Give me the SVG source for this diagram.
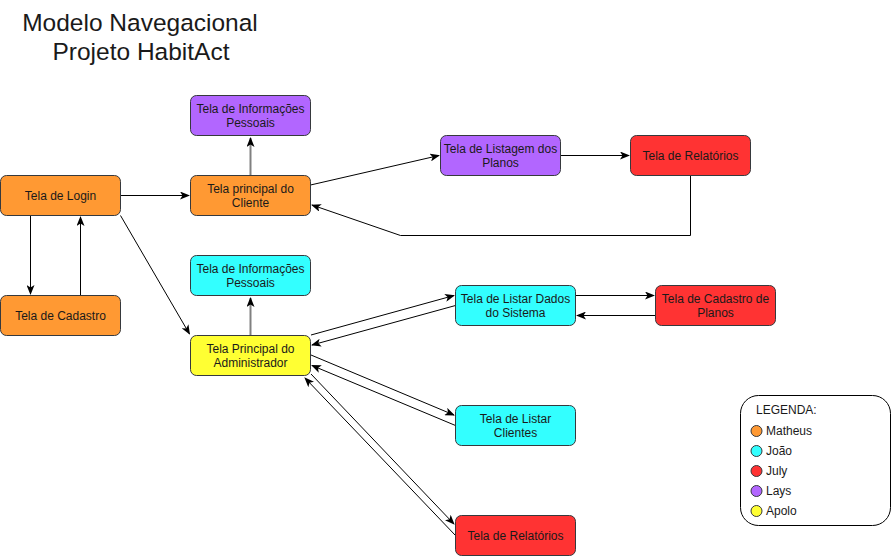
<svg xmlns="http://www.w3.org/2000/svg" width="891" height="556" viewBox="0 0 891 556">
<defs>
<style>
.n{stroke:#36393d;stroke-width:1}
.t{font-family:"Liberation Sans",Arial,sans-serif;font-size:12px;fill:#1a1a1a;text-anchor:middle}
.e{fill:none;stroke:#000;stroke-width:1}
.g{fill:none;stroke:#808080;stroke-width:2}
.or{fill:#FF9933}.cy{fill:#33FFFF}.rd{fill:#FF3333}.pu{fill:#B266FF}.ye{fill:#FFFF33}
</style>
<marker id="a" viewBox="0 0 10 8" refX="9" refY="4" markerWidth="10" markerHeight="8" markerUnits="userSpaceOnUse" orient="auto">
<path d="M0,0 L10,4 L0,8 L2.5,4 Z" fill="#000"/>
</marker>
</defs>
<rect width="891" height="556" fill="#fff"/>
<g id="title" font-family="'Liberation Sans',Arial,sans-serif" font-size="24.5" fill="#1a1a1a" text-anchor="middle">
<text x="140" y="31">Modelo Navegacional</text>
<text x="141" y="60">Projeto HabitAct</text>
</g>
<g id="connectors">
<path class="e" d="M120.5,195.5 L189,195.5" marker-end="url(#a)"/>
<path class="e" d="M30.5,215.5 L30.5,294" marker-end="url(#a)"/>
<path class="e" d="M80.5,295.5 L80.5,217" marker-end="url(#a)"/>
<path class="g" d="M250.5,175.5 L250.5,138" marker-end="url(#a)"/>
<path class="e" d="M310.5,185 L439,155.5" marker-end="url(#a)"/>
<path class="e" d="M560.5,155.5 L629,155.5" marker-end="url(#a)"/>
<path class="e" d="M690.5,175.5 L690.5,235.5 L400.5,235.5 L312,205" marker-end="url(#a)"/>
<path class="e" d="M120.5,215.5 L189.5,334" marker-end="url(#a)"/>
<path class="g" d="M250.5,335.5 L250.5,298" marker-end="url(#a)"/>
<path class="e" d="M311,335 L454,295.5" marker-end="url(#a)"/>
<path class="e" d="M455.5,305.5 L312,345" marker-end="url(#a)"/>
<path class="e" d="M575.5,295.5 L654,295.5" marker-end="url(#a)"/>
<path class="e" d="M655.5,315.5 L577,315.5" marker-end="url(#a)"/>
<path class="e" d="M311,355 L454,415" marker-end="url(#a)"/>
<path class="e" d="M455.5,425.5 L312,365.5" marker-end="url(#a)"/>
<path class="e" d="M311,374 L454,524" marker-end="url(#a)"/>
<path class="e" d="M455.5,535.5 L305,378" marker-end="url(#a)"/>
</g>
<g id="login"><rect class="n or" x="0.5" y="175.5" width="120" height="40" rx="6"/><text class="t" x="60.5" y="199.5">Tela de Login</text></g>
<g id="cadastro"><rect class="n or" x="0.5" y="295.5" width="120" height="40" rx="6"/><text class="t" x="60.5" y="319.5">Tela de Cadastro</text></g>
<g id="cliente"><rect class="n or" x="190.5" y="175.5" width="120" height="40" rx="6"/><text class="t" x="250.5" y="192.5">Tela principal do</text><text class="t" x="250.5" y="207">Cliente</text></g>
<g id="info-cliente"><rect class="n pu" x="190.5" y="95.5" width="120" height="40" rx="6"/><text class="t" x="250.5" y="112.5">Tela de Informações</text><text class="t" x="250.5" y="127">Pessoais</text></g>
<g id="listagem-planos"><rect class="n pu" x="440.5" y="135.5" width="120" height="40" rx="6"/><text class="t" x="500.5" y="152.5">Tela de Listagem dos</text><text class="t" x="500.5" y="167">Planos</text></g>
<g id="relatorios-cliente"><rect class="n rd" x="630.5" y="135.5" width="120" height="40" rx="6"/><text class="t" x="690.5" y="159.5">Tela de Relatórios</text></g>
<g id="info-admin"><rect class="n cy" x="190.5" y="255.5" width="120" height="40" rx="6"/><text class="t" x="250.5" y="272.5">Tela de Informações</text><text class="t" x="250.5" y="287">Pessoais</text></g>
<g id="admin"><rect class="n ye" x="190.5" y="335.5" width="120" height="40" rx="6"/><text class="t" x="250.5" y="352.5">Tela Principal do</text><text class="t" x="250.5" y="367">Administrador</text></g>
<g id="listar-dados"><rect class="n cy" x="455.5" y="285.5" width="120" height="40" rx="6"/><text class="t" x="515.5" y="302.5">Tela de Listar Dados</text><text class="t" x="515.5" y="317">do Sistema</text></g>
<g id="cadastro-planos"><rect class="n rd" x="655.5" y="285.5" width="120" height="40" rx="6"/><text class="t" x="715.5" y="302.5">Tela de Cadastro de</text><text class="t" x="715.5" y="317">Planos</text></g>
<g id="listar-clientes"><rect class="n cy" x="455.5" y="405.5" width="120" height="40" rx="6"/><text class="t" x="515.5" y="422.5">Tela de Listar</text><text class="t" x="515.5" y="437">Clientes</text></g>
<g id="relatorios-admin"><rect class="n rd" x="455.5" y="515.5" width="120" height="40" rx="6"/><text class="t" x="515.5" y="539.5">Tela de Relatórios</text></g>
<g id="legenda" font-family="'Liberation Sans',Arial,sans-serif" font-size="12" fill="#1a1a1a">
<rect x="740.5" y="395.5" width="150" height="130" rx="18" fill="#fff" stroke="#000"/>
<text x="756" y="414">LEGENDA:</text>
<circle class="n or" cx="756.5" cy="431" r="5.5"/><text x="766" y="435">Matheus</text>
<circle class="n cy" cx="756.5" cy="451" r="5.5"/><text x="766" y="455">João</text>
<circle class="n rd" cx="756.5" cy="471" r="5.5"/><text x="766" y="475">July</text>
<circle class="n pu" cx="756.5" cy="491" r="5.5"/><text x="766" y="495">Lays</text>
<circle class="n ye" cx="756.5" cy="511" r="5.5"/><text x="766" y="515">Apolo</text>
</g>
</svg>
